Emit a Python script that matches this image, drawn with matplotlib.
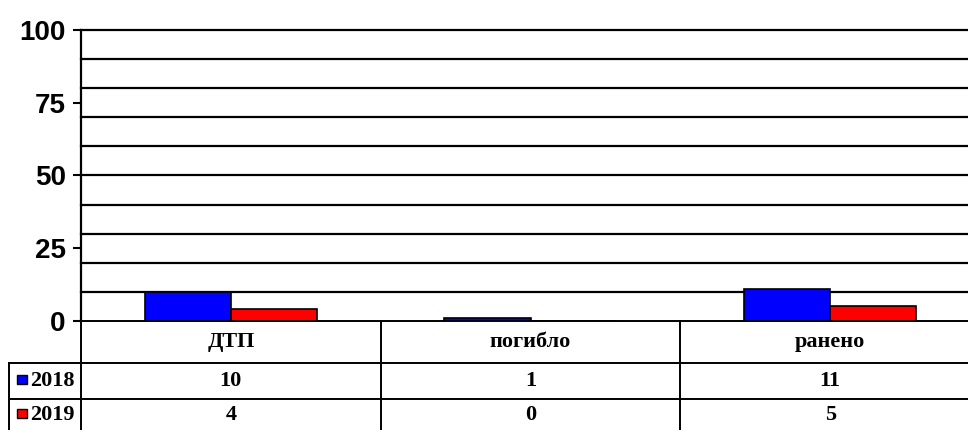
import matplotlib
matplotlib.use('Agg')
import matplotlib.pyplot as plt
from matplotlib.patches import Rectangle
import numpy as np

categories = ['ДТП', 'погибло', 'ранено']
years = ['2018', '2019']
values_2018 = [10, 1, 11]
values_2019 = [4, 0, 5]
colors = ['#0000ff', '#ff0000']

W, H = 968, 430
fig = plt.figure(figsize=(W / 100, H / 100), dpi=100)

# plot area in pixels (the right part runs past the image edge)
x0, x1, ytop, ybot = 81, 980, 30, 321
ax = fig.add_axes([x0 / W, (H - ybot) / H, (x1 - x0) / W, (ybot - ytop) / H])


def ax_x(px):
    return (px - x0) / (x1 - x0)


def ax_y(py):
    return (ybot - py) / (ybot - ytop)


x = np.arange(len(categories))
bw = 0.287
ax.bar(x - bw, values_2018, width=bw, align='edge', color=colors[0],
       edgecolor='black', linewidth=1.2, zorder=3)
ax.bar(x, values_2019, width=bw, align='edge', color=colors[1],
       edgecolor='black', linewidth=1.2, zorder=3)

ax.set_xlim(-0.5, len(categories) - 0.5)
ax.set_ylim(0, 100)
for g in np.arange(10, 101, 10):
    ax.axhline(g, color='black', linewidth=1.6, zorder=0, clip_on=False)
ax.set_yticks([0, 25, 50, 75, 100])
ax.tick_params(axis='y', which='major', length=6, width=1.5, pad=5,
               labelsize=20)
for lbl in ax.get_yticklabels():
    lbl.set_fontfamily('Liberation Sans')
    lbl.set_fontweight('bold')
ax.set_xticks([])
for s in ['top', 'right', 'bottom']:
    ax.spines[s].set_visible(False)
ax.spines['left'].set_linewidth(1.6)

# data table below the plot
tfont = dict(family='Liberation Serif', fontweight='bold', fontsize=16,
             ha='center', va='center')
y_head, y_r1, y_r2, y_bot = ax_y(321), ax_y(363), ax_y(399), ax_y(431)
lk = dict(color='black', linewidth=1.4, transform=ax.transAxes, clip_on=False)

ax.plot([0, 0], [y_head, y_bot], **lk)
for xb in [0.5, 1.5]:
    xa = (xb + 0.5) / len(categories)
    ax.plot([xa, xa], [y_head, y_bot], **lk)
ax.plot([0, 1], [y_head, y_head], **lk)
for yy in [y_r1, y_r2]:
    ax.plot([ax_x(9), 1], [yy, yy], **lk)
ax.plot([ax_x(9), ax_x(9)], [y_r1, y_bot], **lk)

tr = ax.get_xaxis_transform()
for i, cat in enumerate(categories):
    ax.text(i, (y_head + y_r1) / 2, cat, transform=tr, clip_on=False, **tfont)
    ax.text(i, (y_r1 + y_r2) / 2, str(values_2018[i]), transform=tr,
            clip_on=False, **tfont)
    ax.text(i, ax_y(415), str(values_2019[i]), transform=tr,
            clip_on=False, **tfont)

row_y = [(y_r1 + y_r2) / 2, ax_y(415)]
for i, yr in enumerate(years):
    sw = ax_x(27) - ax_x(17)
    sh = 9 / (ybot - ytop)
    ax.add_patch(Rectangle((ax_x(17), row_y[i] - sh / 2 + 0.006), sw, sh,
                           facecolor=colors[i], edgecolor='black',
                           linewidth=1, transform=ax.transAxes, clip_on=False))
    ax.text(ax_x(52), row_y[i], yr, transform=ax.transAxes, clip_on=False,
            **tfont)

plt.savefig('out.png', dpi=100)
